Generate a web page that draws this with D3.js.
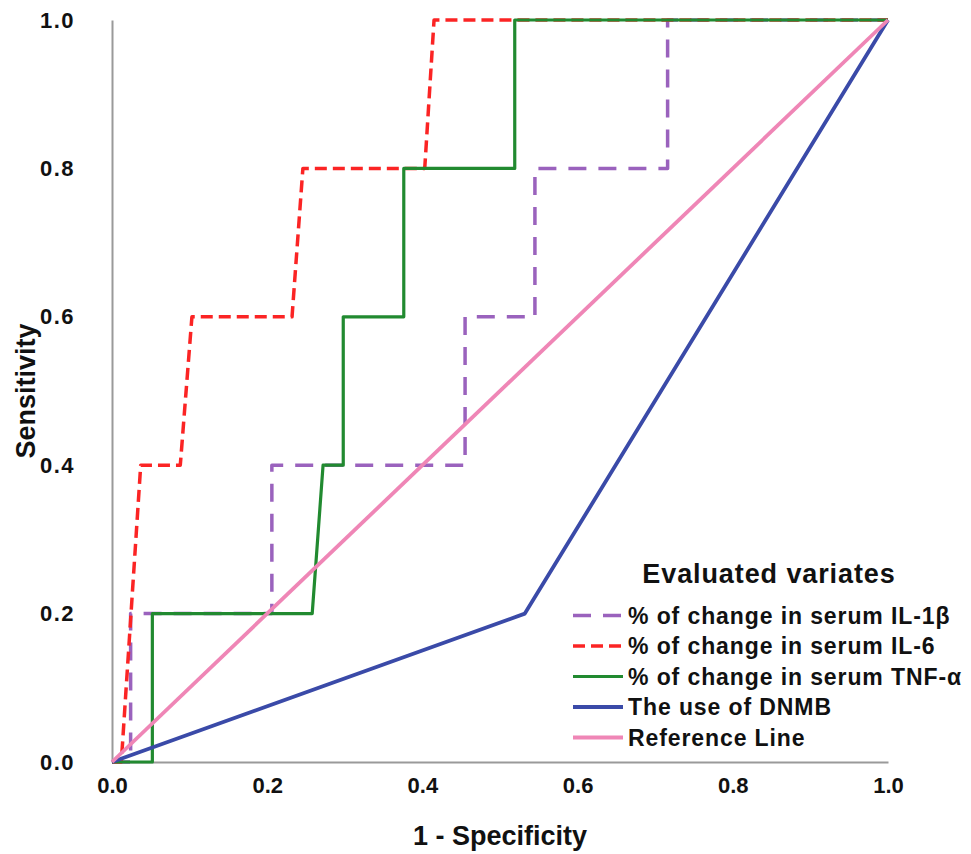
<!DOCTYPE html>
<html lang="en">

<head>
    <meta charset="UTF-8">
    <title>ROC curves</title>
    <script src="https://d3js.org/d3.v7.min.js"></script>
    <style>
        body { margin: 0; background: #fff; }
        svg text { font-family: "Liberation Sans", Arial, sans-serif; }
    </style>
</head>

<body>
    <div id="chart"></div>
    <script>
        // ROC coordinates (1 - specificity, sensitivity)
        const il1bFpr = [0, 0.024, 0.024, 0.206, 0.206, 0.455, 0.455, 0.545, 0.545, 0.716, 0.716, 1];
        const il1bTpr = [0, 0, 0.2, 0.2, 0.4, 0.4, 0.6, 0.6, 0.8, 0.8, 1, 1];

        const il6Fpr = [0, 0.012, 0.037, 0.088, 0.103, 0.232, 0.246, 0.403, 0.415, 1];
        const il6Tpr = [0, 0, 0.4, 0.4, 0.6, 0.6, 0.8, 0.8, 1, 1];

        const tnfFpr = [0, 0.052, 0.052, 0.258, 0.272, 0.298, 0.298, 0.376, 0.376, 0.519, 0.519, 1];
        const tnfTpr = [0, 0, 0.2, 0.2, 0.4, 0.4, 0.6, 0.6, 0.8, 0.8, 1, 1];

        const dnmbFpr = [0, 0.532, 1];
        const dnmbTpr = [0, 0.2, 1];

        const refFpr = [0, 1];
        const refTpr = [0, 1];

        const seriesNames = [
            "% of change in serum IL-1β",
            "% of change in serum IL-6",
            "% of change in serum TNF-α",
            "The use of DNMB",
            "Reference Line"
        ];
        const tickValues = [0, 0.2, 0.4, 0.6, 0.8, 1.0];

        const series = [
            { name: seriesNames[0], x: il1bFpr, y: il1bTpr, color: "#9a62bd", dash: "18,12", w: 3.5 },
            { name: seriesNames[1], x: il6Fpr, y: il6Tpr, color: "#fb2424", dash: "12,6", w: 3.5 },
            { name: seriesNames[2], x: tnfFpr, y: tnfTpr, color: "#218a30", dash: null, w: 3.2 },
            { name: seriesNames[3], x: dnmbFpr, y: dnmbTpr, color: "#3a4aa8", dash: null, w: 3.8 },
            { name: seriesNames[4], x: refFpr, y: refTpr, color: "#ef86b6", dash: null, w: 3.8 }
        ];

        const W = 971, H = 854;
        const margin = { top: 20, right: 83, bottom: 92, left: 112 };

        const svg = d3.select("#chart")
            .append("svg")
            .attr("width", W)
            .attr("height", H);

        const x = d3.scaleLinear().domain([0, 1]).range([margin.left, W - margin.right]);
        const y = d3.scaleLinear().domain([0, 1]).range([H - margin.bottom, margin.top]);

        // axes (grey line, no tick marks)
        const xAxis = svg.append("g")
            .attr("transform", `translate(0,${y(0)})`)
            .call(d3.axisBottom(x).tickValues(tickValues).tickFormat(d3.format(".1f")).tickSize(0).tickPadding(15));
        xAxis.selectAll("text")
            .attr("font-size", "22px")
            .attr("font-weight", "bold")
            .attr("fill", "#111")
            .style("font-family", "'Liberation Sans Narrow', 'Liberation Sans', Arial, sans-serif");

        const yAxis = svg.append("g")
            .attr("transform", `translate(${x(0)},0)`)
            .call(d3.axisLeft(y).tickValues(tickValues).tickFormat(d3.format(".1f")).tickSize(0).tickPadding(37));
        yAxis.selectAll("text")
            .attr("font-size", "22px")
            .attr("font-weight", "bold")
            .attr("letter-spacing", "1.5px")
            .attr("fill", "#111");

        svg.selectAll(".domain")
            .attr("stroke", "#9a9a9a")
            .attr("stroke-width", 2);

        // axis titles
        svg.append("text")
            .attr("x", (x(0) + x(1)) / 2)
            .attr("y", 845)
            .attr("text-anchor", "middle")
            .attr("font-size", "27px")
            .attr("font-weight", "bold")
            .attr("fill", "#111")
            .text("1 - Specificity");

        svg.append("text")
            .attr("transform", `translate(35,${(y(0) + y(1)) / 2}) rotate(-90)`)
            .attr("text-anchor", "middle")
            .attr("font-size", "27px")
            .attr("font-weight", "bold")
            .attr("fill", "#111")
            .text("Sensitivity");

        // curves
        const line = d3.line()
            .x(d => x(d[0]))
            .y(d => y(d[1]));

        svg.append("g")
            .selectAll("path")
            .data(series)
            .enter()
            .append("path")
            .attr("d", s => line(d3.zip(s.x, s.y)))
            .attr("fill", "none")
            .attr("stroke", s => s.color)
            .attr("stroke-width", s => s.w)
            .attr("stroke-dasharray", s => s.dash)
            .attr("stroke-linejoin", "round");

        // legend
        const legend = svg.append("g");
        legend.append("text")
            .attr("x", 769)
            .attr("y", 583)
            .attr("text-anchor", "middle")
            .attr("font-size", "27px")
            .attr("font-weight", "bold")
            .attr("letter-spacing", "0.9px")
            .attr("fill", "#111")
            .text("Evaluated variates");

        const rows = legend.selectAll("g.row")
            .data(series)
            .enter()
            .append("g")
            .attr("class", "row")
            .attr("transform", (d, i) => `translate(0,${615.5 + i * 30.5})`);

        rows.append("line")
            .attr("x1", 573)
            .attr("x2", 623)
            .attr("stroke", d => d.color)
            .attr("stroke-width", d => d.w)
            .attr("stroke-dasharray", d => d.dash);

        rows.append("text")
            .attr("x", 628)
            .attr("dy", "0.36em")
            .attr("font-size", "23px")
            .attr("font-weight", "bold")
            .attr("letter-spacing", "0.9px")
            .attr("fill", "#111")
            .text(d => d.name);
    </script>
</body>

</html>
